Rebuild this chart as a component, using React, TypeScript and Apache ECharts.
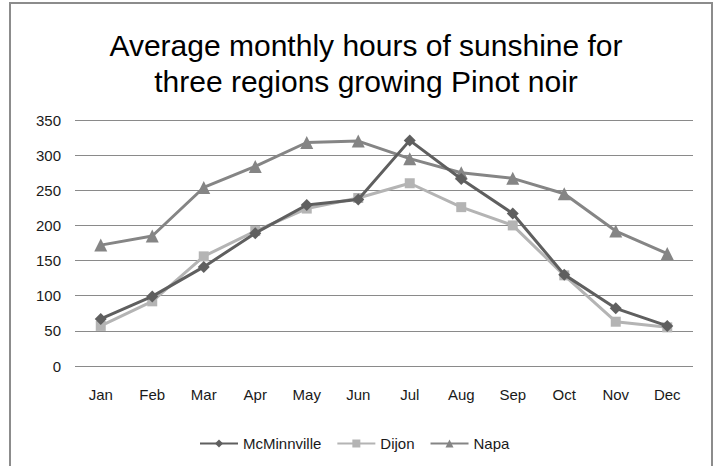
import React, { useEffect, useRef } from "react";
import * as echarts from "echarts";

const months = ["Jan", "Feb", "Mar", "Apr", "May", "Jun", "Jul", "Aug", "Sep", "Oct", "Nov", "Dec"];
const mcminnville = [67, 99, 141, 189, 229, 237, 321, 266, 217, 130, 82, 57];
const dijon = [57, 92, 156, 192, 224, 239, 260, 226, 200, 129, 63, 55];
const napa = [172, 185, 254, 284, 318, 320, 295, 275, 267, 245, 192, 160];
const yTicks = [0, 350, 50];

export default function App() {
  const ref = useRef<HTMLDivElement>(null);
  useEffect(() => {
    const chart = echarts.init(ref.current!, null, { renderer: "svg" });
    const font = "Liberation Sans, Arial, sans-serif";
    chart.setOption({
      animation: false,
      backgroundColor: "#fff",
      textStyle: { fontFamily: font },
      title: {
        text: "Average monthly hours of sunshine for\nthree regions growing Pinot noir",
        left: 361,
        textAlign: "center",
        top: 22,
        textStyle: { fontSize: 30, fontWeight: "normal", color: "#000", lineHeight: 36, fontFamily: font },
      },
      graphic: [
        {
          type: "rect",
          shape: { x: 10, y: 3, width: 702, height: 480 },
          style: { fill: "none", stroke: "#8c8c8c", lineWidth: 2 },
          silent: true,
        },
      ],
      legend: {
        top: 431,
        left: 194,
        itemWidth: 38,
        itemHeight: 10,
        itemGap: 15,
        textStyle: { fontSize: 15, color: "#1a1a1a", fontFamily: font },
        data: ["McMinnville", "Dijon", "Napa"],
      },
      grid: { left: 75, right: 21, top: 120, bottom: 100, containLabel: false },
      xAxis: {
        type: "category",
        data: months,
        boundaryGap: true,
        axisLine: { show: false },
        axisTick: { show: false },
        axisLabel: { fontSize: 15, color: "#1a1a1a", margin: 21 },
      },
      yAxis: {
        type: "value",
        min: yTicks[0],
        max: yTicks[1],
        interval: yTicks[2],
        axisLine: { show: false },
        axisTick: { show: false },
        axisLabel: { fontSize: 15, color: "#1a1a1a", margin: 14 },
        splitLine: { lineStyle: { color: "#8a8a8a", width: 1 } },
      },
      series: [
        {
          name: "McMinnville",
          type: "line",
          data: mcminnville,
          symbol: "diamond",
          symbolSize: 12,
          color: "#5f5f5f",
          lineStyle: { width: 3, color: "#5f5f5f" },
          itemStyle: { color: "#5f5f5f" },
          z: 3,
        },
        {
          name: "Dijon",
          type: "line",
          data: dijon,
          symbol: "rect",
          symbolSize: 10,
          color: "#b4b4b4",
          lineStyle: { width: 3, color: "#b4b4b4" },
          itemStyle: { color: "#b4b4b4" },
          z: 2,
        },
        {
          name: "Napa",
          type: "line",
          data: napa,
          symbol: "triangle",
          symbolSize: 13,
          color: "#858585",
          lineStyle: { width: 3, color: "#858585" },
          itemStyle: { color: "#858585" },
          z: 1,
        },
      ],
    });
    return () => chart.dispose();
  }, []);
  return <div ref={ref} style={{ width: 714, height: 466, position: "absolute", left: 0, top: 0 }} />;
}
